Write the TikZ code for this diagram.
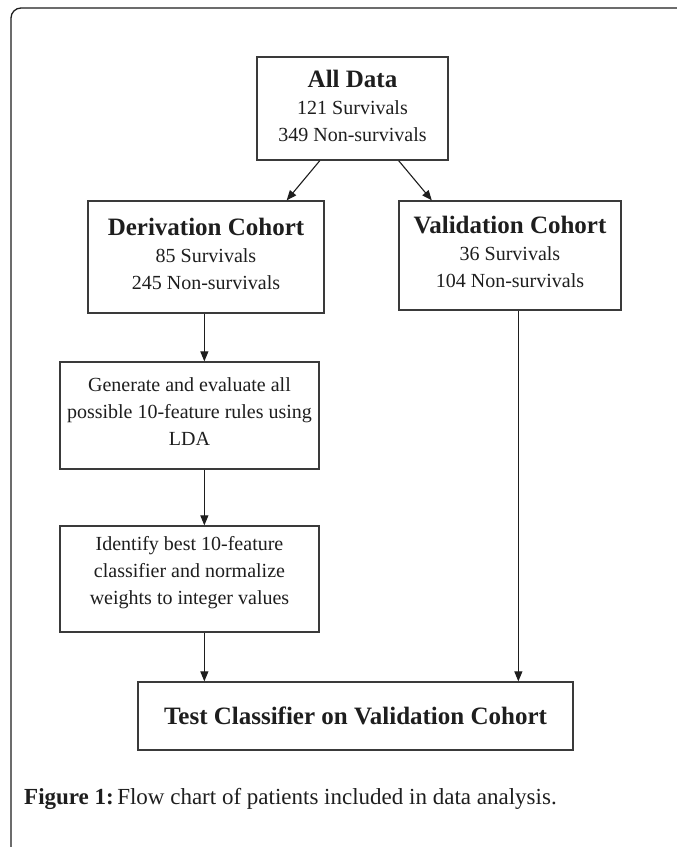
\documentclass[tikz,border=0pt]{standalone}
\usepackage{fontspec}
\setmainfont{Liberation Serif}
\usetikzlibrary{arrows.meta,calc}
\definecolor{boxline}{HTML}{3A3A3A}
\definecolor{txt}{HTML}{1E1E1E}
\tikzset{
  box/.style={draw=boxline, line width=1.3pt, rectangle, inner sep=0pt, align=center,
    text=txt, font=\fontsize{20}{27}\selectfont},
  arr/.style={draw=txt, line width=1.1pt, -{Triangle[length=10pt,width=8pt]}}
}
\newcommand{\hdr}[1]{{\fontsize{25}{28}\selectfont\bfseries #1}}
\newcommand{\lift}[1]{\rule[-#1]{0pt}{0pt}}
\begin{document}
\begin{tikzpicture}[x=1pt,y=-1pt]
\useasboundingbox (0,0) rectangle (677,847);
\fill[white] (0,0) rectangle (677,847);
\draw[line width=1.3pt, color=txt, rounded corners=10pt] (11,847) -- (11,8) -- (677,8);

\node[box, minimum width=191pt, minimum height=103pt] (all) at (352.5,108.5)
  {\hdr{All Data}\\[0pt]121 Survivals\\349 Non-survivals\lift{5pt}};
\node[box, minimum width=236pt, minimum height=112pt] (der) at (206,257)
  {\hdr{Derivation Cohort}\\[0pt]85 Survivals\\245 Non-survivals\lift{7pt}};
\node[box, minimum width=222pt, minimum height=109pt] (val) at (510,255.5)
  {\hdr{Validation Cohort}\\[0pt]36 Survivals\\104 Non-survivals\lift{8pt}};
\node[box, minimum width=259pt, minimum height=107pt] (gen) at (189.5,415.5)
  {Generate and evaluate all\\possible 10-feature rules using\\LDA\lift{7pt}};
\node[box, minimum width=259pt, minimum height=106pt] (idf) at (189.5,579)
  {Identify best 10-feature\\classifier and normalize\\weights to integer values\lift{18pt}};
\node[box, minimum width=435pt, minimum height=68pt] (tst) at (355.5,716)
  {\hdr{Test Classifier on Validation Cohort}};

\coordinate (a1) at ($(all.south west)!0.33!(all.south east)$);
\coordinate (a2) at ($(all.south west)!0.74!(all.south east)$);
\coordinate (d1) at ($(der.north west)!0.84!(der.north east)$);
\coordinate (v1) at ($(val.north west)!0.15!(val.north east)$);
\draw[arr] (a1) -- (d1);
\draw[arr] (a2) -- (v1);

\coordinate (dx) at ($(der.south west)+(117,0)$);
\draw[arr] (dx) -- (dx |- gen.north);
\coordinate (gx) at ($(gen.south west)+(145,0)$);
\draw[arr] (gx) -- (gx |- idf.north);
\coordinate (ix) at ($(idf.south west)+(145,0)$);
\draw[arr] (ix) -- (ix |- tst.north);
\coordinate (vx) at ($(val.south west)+(120,0)$);
\draw[arr] (vx) -- (vx |- tst.north);

\node[anchor=base west, inner sep=0pt, text=txt, font=\fontsize{23}{27}\selectfont] (cap) at (24,804)
  {\textbf{Figure 1:}\hspace{0.15em}Flow chart of patients included in data analysis.};
\end{tikzpicture}
\end{document}
